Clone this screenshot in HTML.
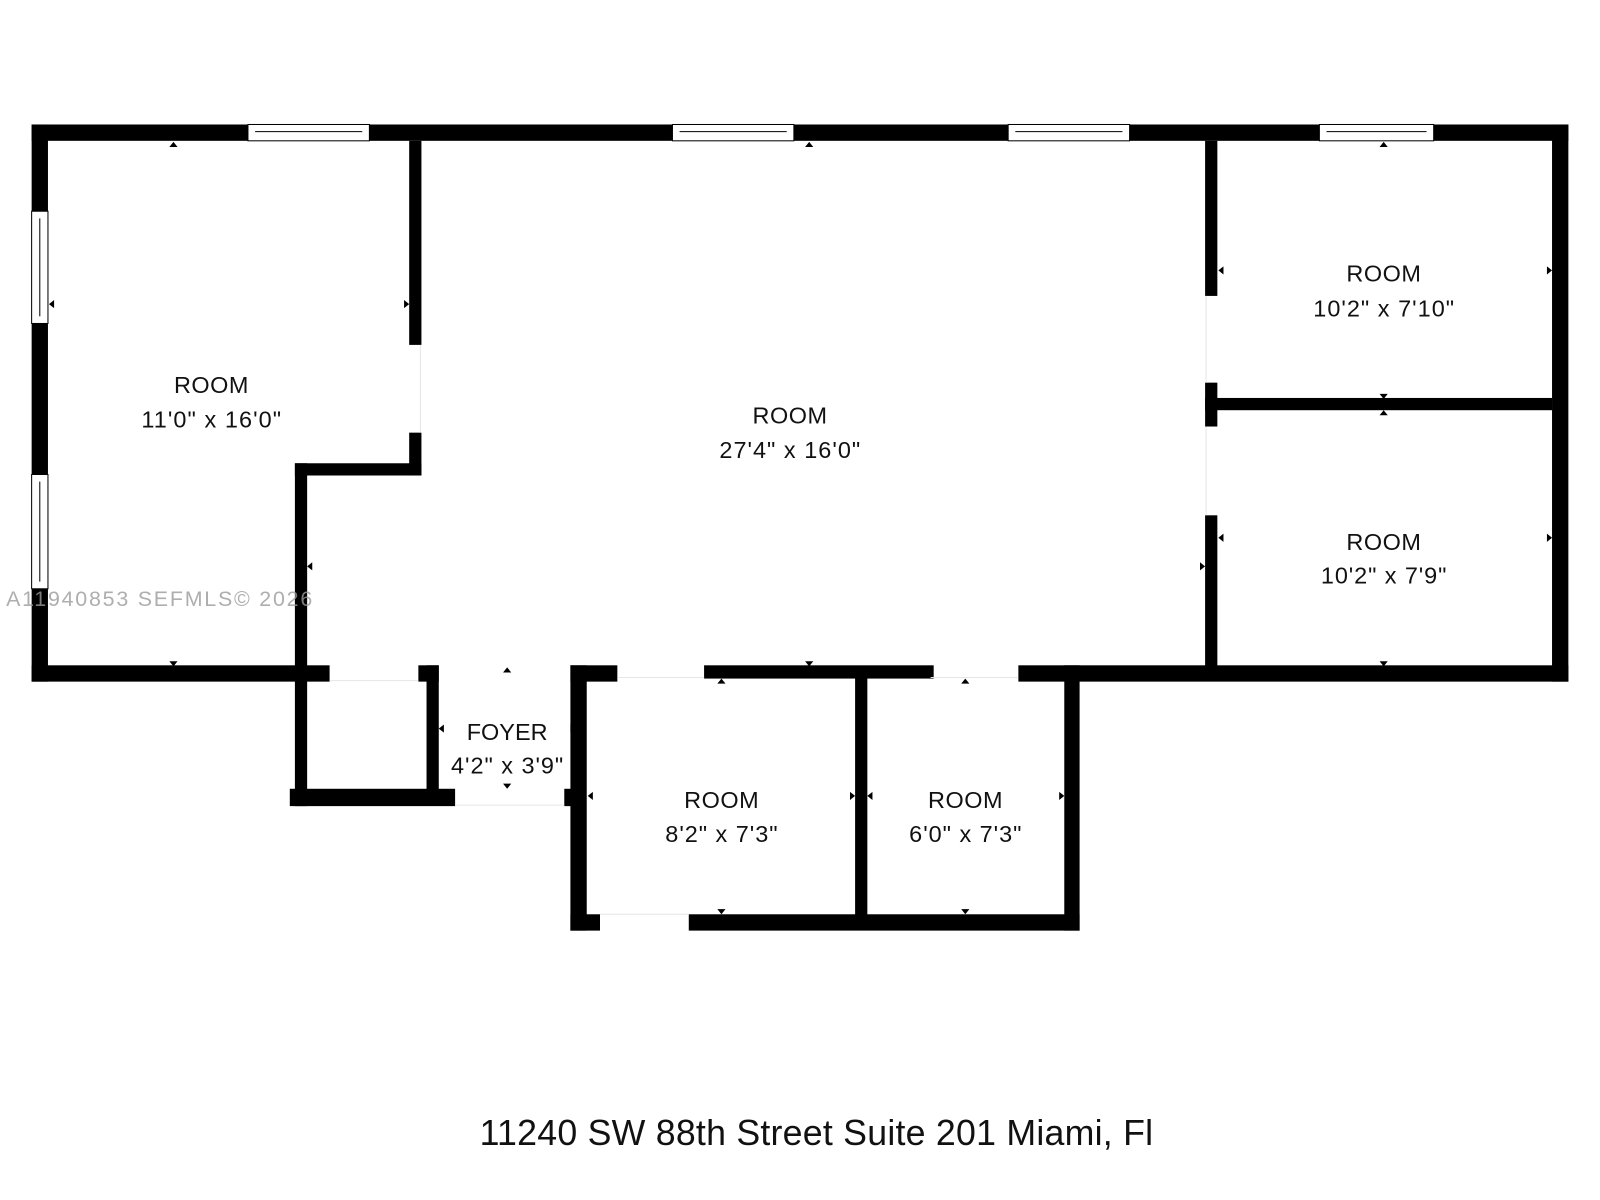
<!DOCTYPE html>
<html><head><meta charset="utf-8"><style>
html,body{margin:0;padding:0;background:#fff;}
svg{display:block}
text{font-family:"Liberation Sans",sans-serif;fill:#111;}
</style></head><body>
<svg width="1600" height="1200" viewBox="0 0 1568 1176" preserveAspectRatio="none">
<g fill="#000">
<rect x="31" y="122" width="1506" height="16"/>
<rect x="31" y="122" width="16" height="546"/>
<rect x="31" y="652" width="292" height="16"/>
<rect x="1521" y="122" width="16" height="546"/>
<rect x="998" y="652" width="539" height="16"/>
<rect x="401" y="138" width="12" height="200"/>
<rect x="401" y="424" width="12" height="42"/>
<rect x="289" y="454" width="124" height="12"/>
<rect x="289" y="454" width="12" height="336"/>
<rect x="410" y="652" width="20" height="16"/>
<rect x="418" y="652" width="12" height="130"/>
<rect x="284" y="773" width="162" height="17"/>
<rect x="553" y="773" width="20" height="17"/>
<rect x="559" y="652" width="16" height="260"/>
<rect x="559" y="652" width="46" height="16"/>
<rect x="690" y="652" width="225" height="13"/>
<rect x="559" y="896" width="29" height="16"/>
<rect x="675" y="896" width="383" height="16"/>
<rect x="838" y="660" width="12" height="250"/>
<rect x="1043" y="652" width="15" height="260"/>
<rect x="1181" y="138" width="12" height="152"/>
<rect x="1181" y="375" width="12" height="43"/>
<rect x="1181" y="505" width="12" height="155"/>
<rect x="1181" y="390" width="340" height="12"/>
<path d="M166 144l4-5 4 5z M789 144l4-5 4 5z M1352 144l4-5 4 5z M166 648l4 5 4-5z M789 648l4 5 4-5z M1352 648l4 5 4-5z M493 659l4-5 4 5z M493 768l4 5 4-5z M703 670l4-5 4 5z M942 670l4-5 4 5z M703 891l4 5 4-5z M942 891l4 5 4-5z M1352 386l4 5 4-5z M1352 407l4-5 4 5z"/>
<path d="M53 294l-5 4 5 4z M396 294l5 4-5 4z M306 551l-5 4 5 4z M1176 551l5 4-5 4z M1199 261l-5 4 5 4z M1516 261l5 4-5 4z M1199 523l-5 4 5 4z M1516 523l5 4-5 4z M435 710l-5 4 5 4z M559 710l5 4-5 4z M581 776l-5 4 5 4z M833 776l5 4-5 4z M855 776l-5 4 5 4z M1038 776l5 4-5 4z"/>
</g>
<g fill="none" stroke="#e6e6e6" stroke-width="1">
<line x1="1182" y1="290" x2="1182" y2="375"/><line x1="1182" y1="418" x2="1182" y2="505"/>
<line x1="412" y1="338" x2="412" y2="424"/>
<line x1="323" y1="667" x2="410" y2="667"/><line x1="605" y1="664" x2="690" y2="664"/>
<line x1="912" y1="664" x2="998" y2="664"/><line x1="446" y1="789" x2="553" y2="789"/>
<line x1="588" y1="896" x2="675" y2="896"/>
</g>
<g fill="#fff" stroke="#000" stroke-width="1">
<rect x="243" y="122" width="119" height="16"/><line x1="250" y1="129" x2="355" y2="129"/>
<rect x="659" y="122" width="119" height="16"/><line x1="666" y1="129" x2="771" y2="129"/>
<rect x="988" y="122" width="119" height="16"/><line x1="995" y1="129" x2="1100" y2="129"/>
<rect x="1293" y="122" width="112" height="16"/><line x1="1300" y1="129" x2="1398" y2="129"/>
<rect x="31" y="207" width="16" height="110"/><line x1="39" y1="214" x2="39" y2="310"/>
<rect x="31" y="465" width="16" height="112"/><line x1="39" y1="472" x2="39" y2="570"/>
</g>
<g font-size="23" text-anchor="middle">
<text x="207" y="385" textLength="73">ROOM</text><text x="207" y="419" textLength="137">11'0" x 16'0"</text>
<text x="774" y="415" textLength="73">ROOM</text><text x="774" y="449" textLength="138">27'4" x 16'0"</text>
<text x="1356" y="276" textLength="73">ROOM</text><text x="1356" y="310" textLength="138">10'2" x 7'10"</text>
<text x="1356" y="539" textLength="73">ROOM</text><text x="1356" y="572" textLength="123">10'2" x 7'9"</text>
<text x="497" y="725">FOYER</text><text x="497" y="758" textLength="110">4'2" x 3'9"</text>
<text x="707" y="792" textLength="73">ROOM</text><text x="707" y="825" textLength="110">8'2" x 7'3"</text>
<text x="946" y="792" textLength="73">ROOM</text><text x="946" y="825" textLength="110">6'0" x 7'3"</text>
</g>
<text x="6" y="594" font-size="21" textLength="300" style="fill:#9a9a9a;opacity:.8">A11940853  SEFMLS© 2026</text>
<text x="800" y="1122" font-size="35" text-anchor="middle" textLength="660">11240 SW 88th Street Suite 201 Miami, Fl</text>
</svg>
</body></html>
